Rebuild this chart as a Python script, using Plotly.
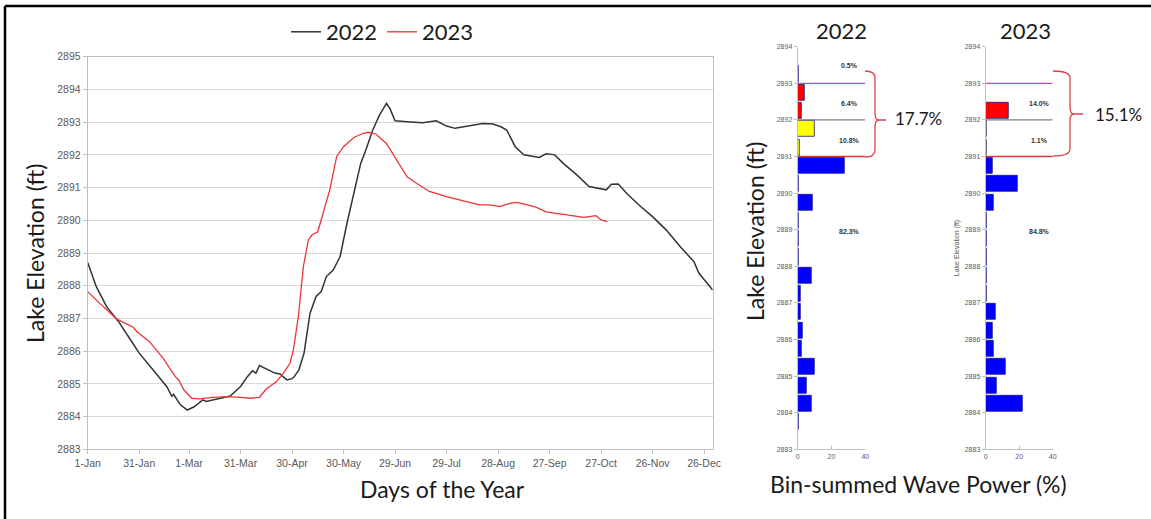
import plotly.graph_objects as go

W, H = 1151, 519

# ---------------- data: lake elevation time series ----------------
days_2022 = [0, 5, 11, 18, 25, 30, 38, 46, 49, 50, 54, 58, 62, 67, 69, 77, 83, 89, 93, 96, 98, 100,
             107, 109, 112, 116, 119, 120, 123, 126, 129.5, 133, 136, 139, 143, 147, 151, 155, 159,
             162, 166, 170, 174, 176, 179, 186, 195, 203, 209, 214, 221, 230, 236, 241, 244, 249,
             254, 259, 263, 267, 272, 277, 285, 292, 298, 302, 305, 309, 314, 322, 329, 337, 345,
             353, 356, 364]
elev_2022 = [2888.71, 2887.97, 2887.36, 2886.90, 2886.34, 2885.94, 2885.43, 2884.92, 2884.62, 2884.68,
             2884.36, 2884.20, 2884.30, 2884.51, 2884.46, 2884.56, 2884.63, 2884.92, 2885.22, 2885.40,
             2885.33, 2885.56, 2885.40, 2885.33, 2885.30, 2885.12, 2885.16, 2885.20, 2885.43, 2885.94,
             2887.16, 2887.67, 2887.82, 2888.28, 2888.48, 2888.89, 2889.91, 2890.82, 2891.74, 2892.15,
             2892.76, 2893.22, 2893.57, 2893.42, 2893.04, 2893.01, 2892.98, 2893.04, 2892.88, 2892.81,
             2892.88, 2892.96, 2892.94, 2892.85, 2892.76, 2892.25, 2892.00, 2891.95, 2891.92, 2892.03,
             2892.00, 2891.74, 2891.38, 2891.03, 2890.96, 2890.93, 2891.10, 2891.11, 2890.82, 2890.42,
             2890.11, 2889.70, 2889.20, 2888.74, 2888.38, 2887.87]

days_2023 = [0, 7, 17, 26.6, 28.5, 36, 44, 51, 53, 56, 60.6, 65, 73, 81, 89, 95, 100, 104, 110, 114,
             117.8, 119.8, 122.7, 125.6, 128.5, 130.5, 134, 137, 141, 145, 149, 155, 160.5, 163.4, 168,
             174, 180, 186, 191.5, 199, 209, 219, 228, 234, 240, 245.8, 250, 256, 261, 267, 273, 281,
             289, 296, 299, 302.6]
elev_2023 = [2887.82, 2887.46, 2886.98, 2886.73, 2886.60, 2886.29, 2885.78, 2885.22, 2885.12, 2884.82,
             2884.56, 2884.54, 2884.59, 2884.61, 2884.59, 2884.56, 2884.59, 2884.84, 2885.07, 2885.33,
             2885.63, 2886.04, 2887.06, 2888.58, 2889.40, 2889.55, 2889.65, 2890.21, 2890.93, 2891.95,
             2892.25, 2892.53, 2892.66, 2892.69, 2892.63, 2892.35, 2891.84, 2891.33, 2891.13, 2890.88,
             2890.72, 2890.60, 2890.47, 2890.47, 2890.42, 2890.52, 2890.55, 2890.47, 2890.40, 2890.26,
             2890.21, 2890.16, 2890.09, 2890.14, 2890.01, 2889.96]

tick_days = [0, 30, 59, 89, 119, 149, 179, 209, 239, 269, 299, 329, 359]
tick_labels = ["1-Jan", "31-Jan", "1-Mar", "31-Mar", "30-Apr", "30-May", "29-Jun",
               "29-Jul", "28-Aug", "27-Sep", "27-Oct", "26-Nov", "26-Dec"]

# ---------------- data: bin-summed wave power (0.5 ft bins, centres) ----------------
bin_centers = [2883.75, 2884.25, 2884.75, 2885.25, 2885.75, 2886.25, 2886.75, 2887.25, 2887.75,
               2888.25, 2888.75, 2889.25, 2889.75, 2890.25, 2890.75, 2891.25, 2891.75, 2892.25,
               2892.75, 2893.25]
power_2022 = [0.5, 8.0, 5.3, 9.8, 2.2, 3.0, 1.8, 1.8, 8.2, 0.8, 0.7, 0.7, 8.8, 0.8, 27.8,
              1.0, 9.8, 2.1, 4.3, 0.5]
power_2023 = [0.0, 21.8, 6.5, 11.8, 4.5, 3.9, 6.0, 0.4, 0.4, 0.5, 0.5, 0.6, 4.9, 19.2, 3.9,
              0.5, 0.6, 13.7, 0.0, 0.0]

band_labels_2022 = ["0.5%", "6.4%", "10.8%", "82.3%"]
band_labels_2023 = ["", "14.0%", "1.1%", "84.8%"]
band_label_elev = [2893.5, 2892.46, 2891.45, 2888.96]
totals = ["17.7%", "15.1%"]


def bin_color(e):
    if e >= 2893:
        return "#cc22cc"
    if e >= 2892:
        return "#ff0000"
    if e >= 2891:
        return "#ffff00"
    return "#0000ff"


def px(x):
    return x / W


def py(y):
    return 1 - y / H


fig = go.Figure()

fig.add_trace(go.Scatter(x=days_2022, y=elev_2022, mode="lines", name="2022",
                         line=dict(color="#333333", width=1.5), xaxis="x", yaxis="y"))
fig.add_trace(go.Scatter(x=days_2023, y=elev_2023, mode="lines", name="2023",
                         line=dict(color="#ee3333", width=1.3), xaxis="x", yaxis="y"))

for vals, xa, ya in [(power_2022, "x2", "y2"), (power_2023, "x3", "y3")]:
    fig.add_trace(go.Bar(x=vals, y=bin_centers, orientation="h", width=0.44,
                         marker=dict(color=[bin_color(e) for e in bin_centers],
                                     line=dict(color="#1a1a80", width=0.8)),
                         showlegend=False, xaxis=xa, yaxis=ya))

tickfont = dict(family="Liberation Sans, Arial", size=10.5, color="#595959")
smallfont = dict(family="Liberation Sans, Arial", size=7, color="#595959")
axcol = "#bfbfbf"

common = dict(automargin=False, zeroline=False)

layout = dict(
    template="none",
    width=W, height=H,
    margin=dict(l=0, r=0, t=0, b=0, pad=0, autoexpand=False),
    paper_bgcolor="white", plot_bgcolor="white",
    font=dict(family="Lato", color="#1a1a1a"),
    showlegend=True,
    legend=dict(orientation="h", x=px(286), y=py(32), xanchor="left", yanchor="middle",
                font=dict(family="Lato", size=22, color="#1a1a1a"), bgcolor="rgba(0,0,0,0)",
                itemwidth=30, tracegroupgap=0),
    bargap=0,
    xaxis=dict(domain=[px(87.7), px(712.7)], range=[0, 364], tickvals=tick_days, ticktext=tick_labels,
               showgrid=False, showline=True, linecolor=axcol, mirror=True,
               ticks="outside", ticklen=4, tickcolor=axcol, tickfont=tickfont, anchor="y", **common),
    yaxis=dict(domain=[py(449.3), py(56.7)], range=[2883, 2895], dtick=1, tick0=2883,
               showgrid=True, gridcolor="#d9d9d9", showline=True, linecolor=axcol,
               mirror=True, ticks="outside", ticklen=4, tickcolor=axcol, tickfont=tickfont, anchor="x",
               **common),
    xaxis2=dict(domain=[px(797.7), px(865.3)], range=[0, 40], tickvals=[0, 20, 40], showgrid=False,
                showline=True, linecolor=axcol, ticks="inside", ticklen=3,
                tickcolor=axcol, tickfont=smallfont, anchor="y2", **common),
    yaxis2=dict(domain=[py(449.3), py(46.7)], range=[2883, 2894], dtick=1, tick0=2883, showgrid=False,
                showline=True, linecolor=axcol, ticks="outside", ticklen=3,
                tickcolor=axcol, tickfont=smallfont, anchor="x2", **common),
    xaxis3=dict(domain=[px(985.7), px(1052.7)], range=[0, 40], tickvals=[0, 20, 40], showgrid=False,
                showline=True, linecolor=axcol, ticks="inside", ticklen=3,
                tickcolor=axcol, tickfont=smallfont, anchor="y3", **common),
    yaxis3=dict(domain=[py(449.3), py(46.7)], range=[2883, 2894], dtick=1, tick0=2883, showgrid=False,
                showline=True, linecolor=axcol, ticks="outside", ticklen=3,
                tickcolor=axcol, tickfont=smallfont, anchor="x3",
                title=dict(text="Lake Elevation (ft)", font=dict(family="Liberation Sans, Arial", size=7,
                                                                 color="#595959"), standoff=4),
                **common),
)
fig.update_layout(**layout)

shapes = []
# threshold lines in histogram panels
for xa, ya in [("x2", "y2"), ("x3", "y3")]:
    for lvl, col in [(2893, "#cc44cc"), (2892, "#7f7f7f"), (2891, "#d23a3a")]:
        shapes.append(dict(type="line", xref=xa, yref=ya, x0=0, x1=40, y0=lvl, y1=lvl,
                           line=dict(color=col, width=1.3)))


def brace(x0, x1, xt, xe, ytop, ymid, ybot, r=7):
    pts = (f"M{px(x0)},{py(ytop)} Q{px(x1)},{py(ytop)} {px(x1)},{py(ytop + r)} "
           f"L{px(x1)},{py(ymid - r)} Q{px(x1)},{py(ymid)} {px(xt)},{py(ymid)} "
           f"Q{px(x1)},{py(ymid)} {px(x1)},{py(ymid + r)} "
           f"L{px(x1)},{py(ybot - r)} Q{px(x1)},{py(ybot)} {px(x0)},{py(ybot)} "
           f"M{px(xt)},{py(ymid)} L{px(xe)},{py(ymid)}")
    return dict(type="path", xref="paper", yref="paper", path=pts,
                line=dict(color="#e04050", width=1.3))


shapes.append(brace(865, 875, 879, 886, 71, 120, 157))
shapes.append(brace(1053, 1070, 1074, 1083, 71, 114, 156))

# outer frame (top and left)
shapes.append(dict(type="line", xref="paper", yref="paper", x0=px(5), x1=1, y0=py(6), y1=py(6),
                   line=dict(color="black", width=2.5)))
shapes.append(dict(type="line", xref="paper", yref="paper", x0=px(5), x1=px(5), y0=py(6), y1=0,
                   line=dict(color="black", width=2.5)))

fig.update_layout(shapes=shapes)

ann = []
big = dict(family="Lato", size=23, color="#1a1a1a")
ttl = dict(family="Lato", size=22, color="#1a1a1a")
ann.append(dict(text="Lake Elevation (ft)", x=px(35), y=py(254), textangle=-90, font=big))
ann.append(dict(text="Days of the Year", x=px(442), y=py(489), font=big))
ann.append(dict(text="Lake Elevation (ft)", x=px(755), y=py(232), textangle=-90, font=big))
ann.append(dict(text="Bin-summed Wave Power (%)", x=px(918), y=py(484), font=big))
ann.append(dict(text="2022", x=px(841), y=py(31), font=ttl))
ann.append(dict(text="2023", x=px(1025), y=py(31), font=ttl))
ann.append(dict(text=totals[0], x=px(918), y=py(119), font=dict(family="Lato", size=17, color="#1a1a1a")))
ann.append(dict(text=totals[1], x=px(1118), y=py(114), font=dict(family="Lato", size=17, color="#1a1a1a")))
for a in ann:
    a.update(xref="paper", yref="paper", showarrow=False, xanchor="center", yanchor="middle")

lab = dict(family="Liberation Sans, Arial", size=7, color="#333333")
for t, e in zip(band_labels_2022, band_label_elev):
    ann.append(dict(text=f"<b>{t}</b>", x=30.8, y=e, xref="x2", yref="y2", showarrow=False, font=lab))
for t, e in zip(band_labels_2023, band_label_elev):
    if t:
        ann.append(dict(text=f"<b>{t}</b>", x=32.4, y=e, xref="x3", yref="y3", showarrow=False, font=lab))

fig.update_layout(annotations=ann)

fig.write_html("out.html")
